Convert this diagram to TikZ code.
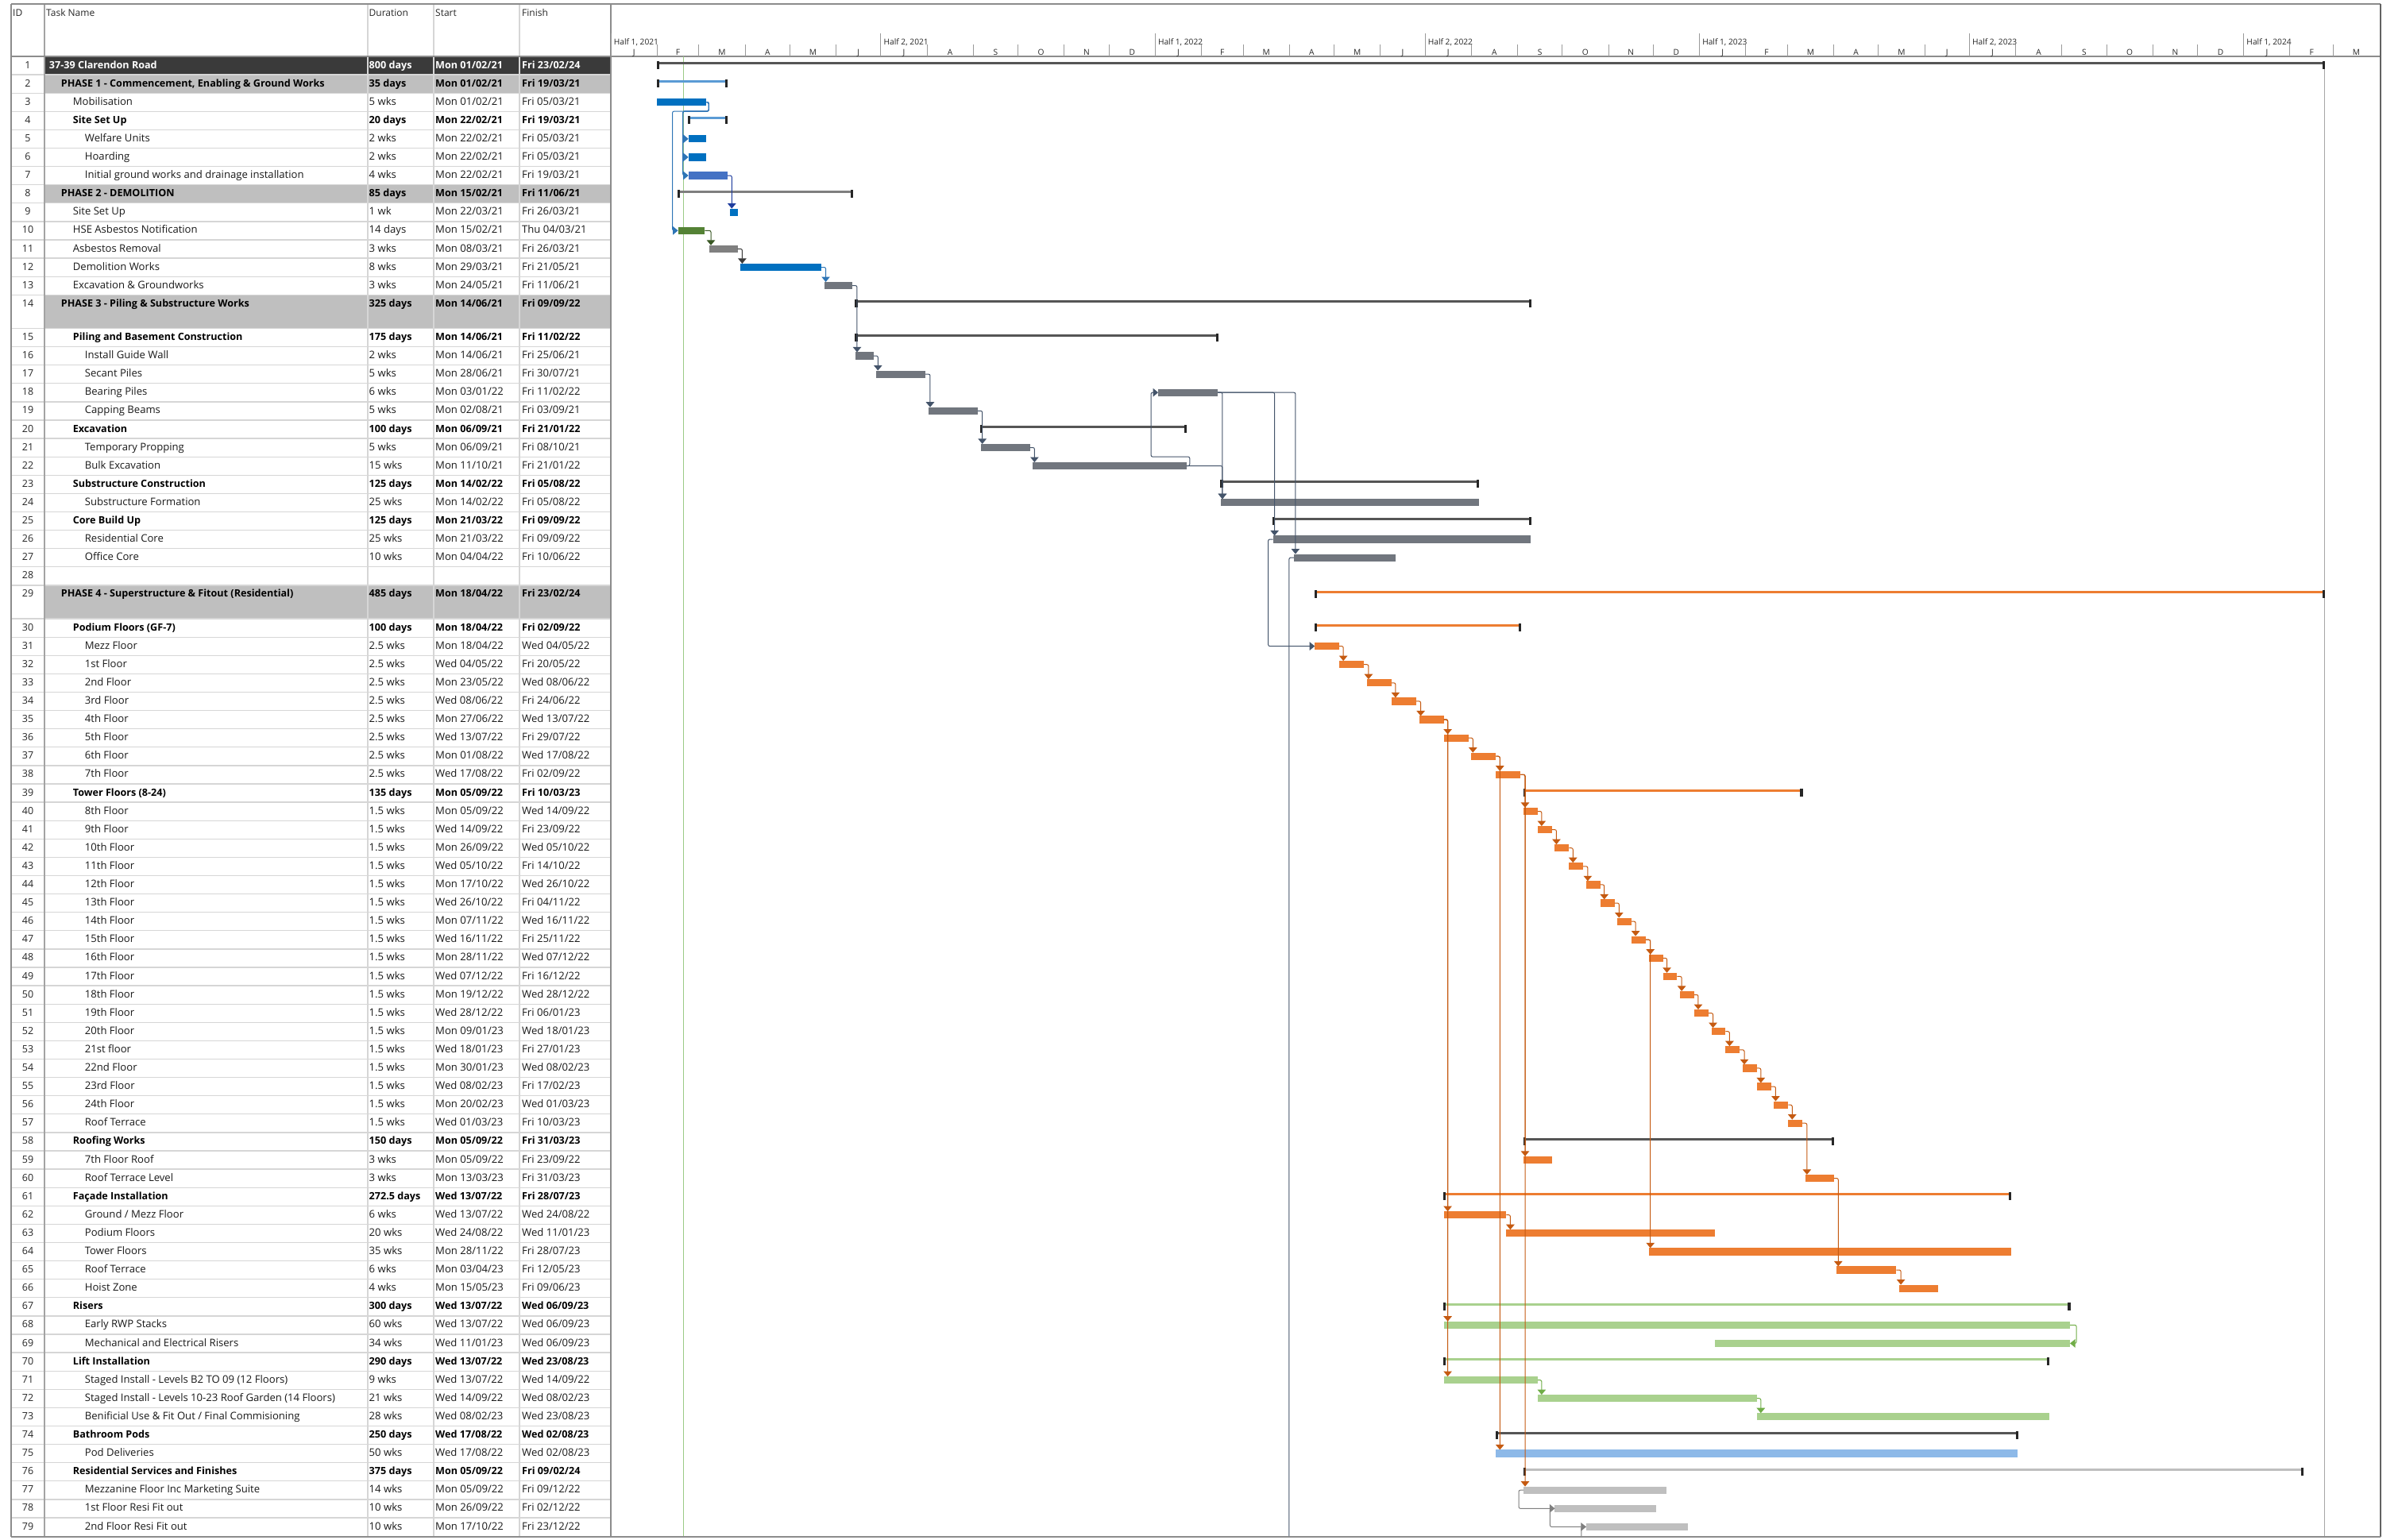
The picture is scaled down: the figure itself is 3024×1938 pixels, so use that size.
\documentclass[tikz,border=0pt]{standalone}
\usepackage{fontspec}
\setmainfont{Open Sans}
\usetikzlibrary{arrows.meta,calc}
\definecolor{cBlue}{HTML}{0070C0}
\definecolor{cBlueB}{HTML}{4472C4}
\definecolor{cLBlue}{HTML}{5B9BD5}
\definecolor{cMid}{HTML}{7F7F7F}
\definecolor{cDark}{HTML}{555555}
\definecolor{cGreenD}{HTML}{548235}
\definecolor{cGray}{HTML}{808080}
\definecolor{cSlate}{HTML}{71767E}
\definecolor{cOrange}{HTML}{ED7D31}
\definecolor{cLGreen}{HTML}{A9D18E}
\definecolor{cPod}{HTML}{8DB9E8}
\definecolor{cLGray}{HTML}{BFBFBF}
\definecolor{cTop}{HTML}{3A3A3A}
\definecolor{cPhase}{HTML}{BFBFBF}
\definecolor{cGrid}{HTML}{D6D6D6}
\definecolor{cBorder}{HTML}{8C8C8C}
\definecolor{lSlate}{HTML}{44546A}
\definecolor{lOrange}{HTML}{C55A11}
\definecolor{lGreen}{HTML}{70AD47}
\definecolor{lBlue}{HTML}{2E75B6}
\definecolor{lNavy}{HTML}{1F3D9E}
\definecolor{lDkGreen}{HTML}{385723}
\definecolor{lDark}{HTML}{3A3A3A}
\definecolor{lGray}{HTML}{7F7F7F}
\definecolor{cNow}{HTML}{9BCB86}
\definecolor{cEnd}{HTML}{A6A6A6}

\newcommand\SetT[1]{\pgfmathsetmacro\gT{71+((#1)-1)*23.1+((#1)>14)*19.1+((#1)>29)*19.1}}
\newcommand\DX[1]{\pgfmathsetmacro\gA{769.1+1.8773*(#1)}}
\newcommand\TaskBar[5]{\SetT{#2}\DX{#3}%
  \pgfmathsetmacro\gW{1.8773*((#4)-(#3))}%
  \node[taskbar, fill=#5, minimum width=\gW pt, anchor=west] (#1) at (\gA,\gT+11.4) {};}
\newcommand\SumBar[5]{\SetT{#2}%
  \pgfmathsetmacro\gA{769.1+1.8773*(#3)}%
  \pgfmathsetmacro\gB{769.1+1.8773*(#4)}%
  \pgfmathsetmacro\gW{\gB-\gA}%
  \node[sumbar, fill=#5, minimum width=\gW pt, anchor=west] (#1) at (\gA,\gT+8.5) {};
  \fill[black!85] (\gA-0.5,\gT+6) rectangle (\gA+2.6,\gT+16);
  \fill[black!85] (\gB-2.6,\gT+6) rectangle (\gB+0.5,\gT+16);}
\newcommand\TRow[7]{\SetT{#1}%
  \pgfmathsetmacro\gI{61.7+15*(#2)}%
  \node[idtxt] (id#1) at (35,\gT+15) {#1};
  \node[#7, anchor=base west] (tn#1) at (\gI,\gT+15) {#3};
  \node[#7, anchor=base west] (du#1) at (464.5,\gT+15) {#4};
  \node[#7, anchor=base west] (st#1) at (548,\gT+15) {#5};
  \node[#7, anchor=base west] (fi#1) at (657,\gT+15) {#6};}
\newcommand\FSlink[3][lSlate]{\draw[link,#1] let \p1=(#2.east), \p2=(#3.north west), \n1={max(\x1+5,\x2+2)} in (\p1) -- (\n1,\y1) -- (\n1,\y2);}
\newcommand\SSlink[3][lSlate]{\draw[link,#1] (#2.west) -- ++(-6,0) |- (#3.west);}
\newcommand\MobLink[1]{\draw[link,lBlue] let \p1=(b3.east), \p2=(#1.west) in (\p1) -- (\x1+3pt,\y1) -- (\x1+3pt,\y1-11.5pt) -- (\x2-7pt,\y1-11.5pt) -- (\x2-7pt,\y2) -- (\p2);}
\newcommand\HalfLab[3]{\DX{#1}\draw[cGray!80, line width=1pt] (\gA,42) -- (\gA,71);
  \node[tsc, anchor=base west] (#3) at (\gA+3.5,56) {#2};}

\begin{document}
\begin{tikzpicture}[x=1pt,y=-1pt,
  taskbar/.style={inner sep=0pt, outer sep=0pt, minimum height=9.2pt, draw=none},
  sumbar/.style={inner sep=0pt, outer sep=0pt, minimum height=3pt, draw=none},
  cell/.style={inner sep=0pt, font=\fontsize{13.1}{16}\selectfont, text=black!90},
  cellb/.style={inner sep=0pt, font=\fontsize{12.6}{16}\selectfont\bfseries, text=black},
  cellw/.style={inner sep=0pt, font=\fontsize{12.6}{16}\selectfont\bfseries, text=white},
  idtxt/.style={inner sep=0pt, font=\fontsize{12.5}{15}\selectfont, text=black!85, anchor=base},
  hdr/.style={inner sep=0pt, font=\fontsize{12}{14}\selectfont, anchor=base west, text=black!85},
  tsc/.style={inner sep=0pt, font=\fontsize{10.2}{12}\selectfont, text=black!85},
  grid/.style={draw=cGrid, line width=1.3pt},
  link/.style={line width=1pt, rounded corners=2pt, -{Triangle[width=10.5pt,length=6.5pt]}}]
\useasboundingbox (0,0) rectangle (3024,1938);
\fill[white] (0,0) rectangle (3024,1938);
\coordinate (chartbot) at (0,1934);

% ---------- table fills ----------
\fill[cTop] (56,71) rectangle (768,94.1);
\SetT{2}\fill[cPhase] (56,\gT) rectangle (768,\gT+23.1);
\SetT{8}\fill[cPhase] (56,\gT) rectangle (768,\gT+23.1);
\SetT{14}\fill[cPhase] (56,\gT) rectangle (768,\gT+42.2);
\SetT{29}\fill[cPhase] (56,\gT) rectangle (768,\gT+42.2);

% ---------- grid ----------
\foreach \r in {2,...,79} {\SetT{\r}\draw[grid] (14,\gT) -- (768,\gT);}
\foreach \cx in {463,546,654} {\draw[draw=cGrid, line width=1.3pt] (\cx,5) -- (\cx,1934);}
\draw[draw=cBorder!80, line width=1.3pt] (56,5) -- (56,1934);
\draw[draw=cBorder, line width=1.4pt] (14,71) -- (2997,71);
\draw[draw=cBorder, line width=2pt] (14,5) -- (2997,5);
\draw[draw=cBorder, line width=1.6pt] (14,5) -- (14,1935);
\draw[draw=cBorder, line width=1.6pt] (769,5) -- (769,1935);
\draw[draw=cBorder!70!black, line width=1.4pt] (2997,5) -- (2997,1935);
\draw[draw=cBorder, line width=1.6pt] (14,1935) -- (2997,1935);

% ---------- header ----------
\node[hdr] (hID) at (16,20.5) {ID};
\node[hdr] (hTN) at (58,20.5) {Task Name};
\node[hdr] (hDU) at (464.5,20.5) {Duration};
\node[hdr] (hST) at (548,20.5) {Start};
\node[hdr] (hFI) at (657,20.5) {Finish};

% ---------- timescale ----------
\HalfLab{0}{Half 1, 2021}{hy1}
\HalfLab{181}{Half 2, 2021}{hy2}
\HalfLab{365}{Half 1, 2022}{hy3}
\HalfLab{546}{Half 2, 2022}{hy4}
\HalfLab{730}{Half 1, 2023}{hy5}
\HalfLab{911}{Half 2, 2023}{hy6}
\HalfLab{1095}{Half 1, 2024}{hy7}
\foreach \ms in {31,59,90,120,151,212,243,273,304,334,396,424,455,485,516,577,608,638,669,699,761,789,820,850,881,942,973,1003,1034,1064,1126,1155} {\DX{\ms}\draw[cGray!80, line width=1pt] (\gA,56) -- (\gA,71);}
\foreach \ms/\mlab [count=\k] in {15.5/J,45/F,74.5/M,105/A,135.5/M,166/J,196.5/J,227.5/A,258/S,288.5/O,319/N,349.5/D,380.5/J,410/F,439.5/M,470/A,500.5/M,531/J,561.5/J,592.5/A,623/S,653.5/O,684/N,714.5/D,745.5/J,775/F,804.5/M,835/A,865.5/M,896/J,926.5/J,957.5/A,988/S,1018.5/O,1049/N,1079.5/D,1110.5/J,1140.5/F,1170.5/M} {\DX{\ms}\node[tsc, anchor=base] (mo\k) at (\gA,69) {\mlab};}

% ---------- chart vertical lines ----------
\draw[cNow, line width=1.3pt] (860.7,71) -- (860.7,1934);
\DX{1149}\draw[cEnd, line width=1pt] (\gA,80) -- (\gA,1934);

% ---------- summary bars ----------
\SumBar{s1}{1}{31}{1149}{cDark}
\SumBar{s2}{2}{31}{78}{cLBlue}
\SumBar{s4}{4}{52}{78}{cLBlue}
\SumBar{s8}{8}{45}{162}{cMid}
\SumBar{s14}{14}{164}{617}{cDark}
\SumBar{s15}{15}{164}{407}{cDark}
\SumBar{s20}{20}{248}{386}{cDark}
\SumBar{s23}{23}{409}{582}{cDark}
\SumBar{s25}{25}{444}{617}{cDark}
\SumBar{s29}{29}{472}{1149}{cOrange}
\SumBar{s30}{30}{472}{610}{cOrange}
\SumBar{s39}{39}{612}{799}{cOrange}
\SumBar{s58}{58}{612}{820}{cDark}
\SumBar{s61}{61}{558.5}{939}{cOrange}
\SumBar{s67}{67}{558.5}{978.5}{cLGreen}
\SumBar{s70}{70}{558.5}{964.5}{cLGreen}
\SumBar{s74}{74}{593.5}{943.5}{cDark}
\SumBar{s76}{76}{612}{1135}{cLGray}

% ---------- task bars ----------
\TaskBar{b3}{3}{31}{64}{cBlue}
\TaskBar{b5}{5}{52}{64}{cBlue}
\TaskBar{b6}{6}{52}{64}{cBlue}
\TaskBar{b7}{7}{52}{78}{cBlueB}
\TaskBar{b9}{9}{80}{85}{cBlue}
\TaskBar{b10}{10}{45}{63}{cGreenD}
\TaskBar{b11}{11}{66}{85}{cGray}
\TaskBar{b12}{12}{87}{141}{cBlue}
\TaskBar{b13}{13}{143}{162}{cSlate}
\TaskBar{b16}{16}{164}{176}{cSlate}
\TaskBar{b17}{17}{178}{211}{cSlate}
\TaskBar{b18}{18}{367}{407}{cSlate}
\TaskBar{b19}{19}{213}{246}{cSlate}
\TaskBar{b21}{21}{248}{281}{cSlate}
\TaskBar{b22}{22}{283}{386}{cSlate}
\TaskBar{b24}{24}{409}{582}{cSlate}
\TaskBar{b26}{26}{444}{617}{cSlate}
\TaskBar{b27}{27}{458}{526}{cSlate}
\TaskBar{b31}{31}{472}{488.5}{cOrange}
\TaskBar{b32}{32}{488.5}{505}{cOrange}
\TaskBar{b33}{33}{507}{523.5}{cOrange}
\TaskBar{b34}{34}{523.5}{540}{cOrange}
\TaskBar{b35}{35}{542}{558.5}{cOrange}
\TaskBar{b36}{36}{558.5}{575}{cOrange}
\TaskBar{b37}{37}{577}{593.5}{cOrange}
\TaskBar{b38}{38}{593.5}{610}{cOrange}
\TaskBar{b40}{40}{612}{621.5}{cOrange}
\TaskBar{b41}{41}{621.5}{631}{cOrange}
\TaskBar{b42}{42}{633}{642.5}{cOrange}
\TaskBar{b43}{43}{642.5}{652}{cOrange}
\TaskBar{b44}{44}{654}{663.5}{cOrange}
\TaskBar{b45}{45}{663.5}{673}{cOrange}
\TaskBar{b46}{46}{675}{684.5}{cOrange}
\TaskBar{b47}{47}{684.5}{694}{cOrange}
\TaskBar{b48}{48}{696}{705.5}{cOrange}
\TaskBar{b49}{49}{705.5}{715}{cOrange}
\TaskBar{b50}{50}{717}{726.5}{cOrange}
\TaskBar{b51}{51}{726.5}{736}{cOrange}
\TaskBar{b52}{52}{738}{747.5}{cOrange}
\TaskBar{b53}{53}{747.5}{757}{cOrange}
\TaskBar{b54}{54}{759}{768.5}{cOrange}
\TaskBar{b55}{55}{768.5}{778}{cOrange}
\TaskBar{b56}{56}{780}{789.5}{cOrange}
\TaskBar{b57}{57}{789.5}{799}{cOrange}
\TaskBar{b59}{59}{612}{631}{cOrange}
\TaskBar{b60}{60}{801}{820}{cOrange}
\TaskBar{b62}{62}{558.5}{600.5}{cOrange}
\TaskBar{b63}{63}{600.5}{740.5}{cOrange}
\TaskBar{b64}{64}{696}{939}{cOrange}
\TaskBar{b65}{65}{822}{862}{cOrange}
\TaskBar{b66}{66}{864}{890}{cOrange}
\TaskBar{b68}{68}{558.5}{978.5}{cLGreen}
\TaskBar{b69}{69}{740.5}{978.5}{cLGreen}
\TaskBar{b71}{71}{558.5}{621.5}{cLGreen}
\TaskBar{b72}{72}{621.5}{768.5}{cLGreen}
\TaskBar{b73}{73}{768.5}{964.5}{cLGreen}
\TaskBar{b75}{75}{593.5}{943.5}{cPod}
\TaskBar{b77}{77}{612}{708}{cLGray}
\TaskBar{b78}{78}{633}{701}{cLGray}
\TaskBar{b79}{79}{654}{722}{cLGray}

% ---------- links ----------
\MobLink{b5}\MobLink{b6}\MobLink{b7}\MobLink{b10}
\FSlink[lNavy]{b7}{b9}
\FSlink[lDkGreen]{b10}{b11}
\FSlink[lDark]{b11}{b12}
\FSlink[lBlue]{b12}{b13}
\FSlink{b13}{b16}
\FSlink{b16}{b17}
\FSlink{b17}{b19}
\FSlink{b19}{b21}
\FSlink{b21}{b22}
\FSlink{b22}{b24}
\FSlink{b18}{b24}
\FSlink{b18}{b26}
\FSlink{b18}{b27}
\draw[link,lSlate] let \p1=(b22.east), \p2=(b18.west) in (\p1) -- (\x1+4pt,\y1) -- (\x1+4pt,\y1+11.5pt) -- (\x2-9pt,\y1+11.5pt) -- (\x2-9pt,\y2) -- (\p2);
\SSlink{b26}{b31}
\draw[link,lSlate,-] (b27.west) -- ++(-6,0) coordinate (c27) -- (c27 |- chartbot);
\FSlink[lOrange]{b31}{b32}
\FSlink[lOrange]{b32}{b33}
\FSlink[lOrange]{b33}{b34}
\FSlink[lOrange]{b34}{b35}
\FSlink[lOrange]{b35}{b36}
\FSlink[lOrange]{b36}{b37}
\FSlink[lOrange]{b37}{b38}
\FSlink[lOrange]{b38}{b40}
\foreach \i [evaluate=\i as \j using int(\i+1)] in {40,...,56} {\FSlink[lOrange]{b\i}{b\j}}
\FSlink[lOrange]{b57}{b60}
\FSlink[lOrange]{b60}{b65}
\FSlink[lOrange]{b65}{b66}
\FSlink[lOrange]{b62}{b63}
\FSlink[lOrange]{b35}{b62}
\FSlink[lOrange]{b35}{b68}
\FSlink[lOrange]{b35}{b71}
\FSlink[lOrange]{b37}{b75}
\FSlink[lOrange]{b38}{b59}
\FSlink[lOrange]{b38}{b77}
\FSlink[lOrange]{b47}{b64}
\draw[link,lGreen] (b68.east) -- ++(8,0) |- (b69.east);
\FSlink[lGreen]{b71}{b72}
\FSlink[lGreen]{b72}{b73}
\SSlink[lGray]{b77}{b78}
\SSlink[lGray]{b78}{b79}
\draw[link,lGray,-] (b79.west) -- ++(-6,0) coordinate (c79) -- (c79 |- chartbot);

% ---------- table text ----------
\TRow{1}{0}{37-39 Clarendon Road}{800 days}{Mon 01/02/21}{Fri 23/02/24}{cellw}
\TRow{2}{1}{PHASE 1 - Commencement, Enabling \& Ground Works}{35 days}{Mon 01/02/21}{Fri 19/03/21}{cellb}
\TRow{3}{2}{Mobilisation}{5 wks}{Mon 01/02/21}{Fri 05/03/21}{cell}
\TRow{4}{2}{Site Set Up}{20 days}{Mon 22/02/21}{Fri 19/03/21}{cellb}
\TRow{5}{3}{Welfare Units}{2 wks}{Mon 22/02/21}{Fri 05/03/21}{cell}
\TRow{6}{3}{Hoarding}{2 wks}{Mon 22/02/21}{Fri 05/03/21}{cell}
\TRow{7}{3}{Initial ground works and drainage installation}{4 wks}{Mon 22/02/21}{Fri 19/03/21}{cell}
\TRow{8}{1}{PHASE 2 - DEMOLITION}{85 days}{Mon 15/02/21}{Fri 11/06/21}{cellb}
\TRow{9}{2}{Site Set Up}{1 wk}{Mon 22/03/21}{Fri 26/03/21}{cell}
\TRow{10}{2}{HSE Asbestos Notification}{14 days}{Mon 15/02/21}{Thu 04/03/21}{cell}
\TRow{11}{2}{Asbestos Removal}{3 wks}{Mon 08/03/21}{Fri 26/03/21}{cell}
\TRow{12}{2}{Demolition Works}{8 wks}{Mon 29/03/21}{Fri 21/05/21}{cell}
\TRow{13}{2}{Excavation \& Groundworks}{3 wks}{Mon 24/05/21}{Fri 11/06/21}{cell}
\TRow{14}{1}{PHASE 3 - Piling \& Substructure Works}{325 days}{Mon 14/06/21}{Fri 09/09/22}{cellb}
\TRow{15}{2}{Piling and Basement Construction}{175 days}{Mon 14/06/21}{Fri 11/02/22}{cellb}
\TRow{16}{3}{Install Guide Wall}{2 wks}{Mon 14/06/21}{Fri 25/06/21}{cell}
\TRow{17}{3}{Secant Piles}{5 wks}{Mon 28/06/21}{Fri 30/07/21}{cell}
\TRow{18}{3}{Bearing Piles}{6 wks}{Mon 03/01/22}{Fri 11/02/22}{cell}
\TRow{19}{3}{Capping Beams}{5 wks}{Mon 02/08/21}{Fri 03/09/21}{cell}
\TRow{20}{2}{Excavation}{100 days}{Mon 06/09/21}{Fri 21/01/22}{cellb}
\TRow{21}{3}{Temporary Propping}{5 wks}{Mon 06/09/21}{Fri 08/10/21}{cell}
\TRow{22}{3}{Bulk Excavation}{15 wks}{Mon 11/10/21}{Fri 21/01/22}{cell}
\TRow{23}{2}{Substructure Construction}{125 days}{Mon 14/02/22}{Fri 05/08/22}{cellb}
\TRow{24}{3}{Substructure Formation}{25 wks}{Mon 14/02/22}{Fri 05/08/22}{cell}
\TRow{25}{2}{Core Build Up}{125 days}{Mon 21/03/22}{Fri 09/09/22}{cellb}
\TRow{26}{3}{Residential Core}{25 wks}{Mon 21/03/22}{Fri 09/09/22}{cell}
\TRow{27}{3}{Office Core}{10 wks}{Mon 04/04/22}{Fri 10/06/22}{cell}
\SetT{28}\node[idtxt] (id28) at (35,\gT+15) {28};
\TRow{29}{1}{PHASE 4 - Superstructure \& Fitout (Residential)}{485 days}{Mon 18/04/22}{Fri 23/02/24}{cellb}
\TRow{30}{2}{Podium Floors (GF-7)}{100 days}{Mon 18/04/22}{Fri 02/09/22}{cellb}
\TRow{31}{3}{Mezz Floor}{2.5 wks}{Mon 18/04/22}{Wed 04/05/22}{cell}
\TRow{32}{3}{1st Floor}{2.5 wks}{Wed 04/05/22}{Fri 20/05/22}{cell}
\TRow{33}{3}{2nd Floor}{2.5 wks}{Mon 23/05/22}{Wed 08/06/22}{cell}
\TRow{34}{3}{3rd Floor}{2.5 wks}{Wed 08/06/22}{Fri 24/06/22}{cell}
\TRow{35}{3}{4th Floor}{2.5 wks}{Mon 27/06/22}{Wed 13/07/22}{cell}
\TRow{36}{3}{5th Floor}{2.5 wks}{Wed 13/07/22}{Fri 29/07/22}{cell}
\TRow{37}{3}{6th Floor}{2.5 wks}{Mon 01/08/22}{Wed 17/08/22}{cell}
\TRow{38}{3}{7th Floor}{2.5 wks}{Wed 17/08/22}{Fri 02/09/22}{cell}
\TRow{39}{2}{Tower Floors (8-24)}{135 days}{Mon 05/09/22}{Fri 10/03/23}{cellb}
\TRow{40}{3}{8th Floor}{1.5 wks}{Mon 05/09/22}{Wed 14/09/22}{cell}
\TRow{41}{3}{9th Floor}{1.5 wks}{Wed 14/09/22}{Fri 23/09/22}{cell}
\TRow{42}{3}{10th Floor}{1.5 wks}{Mon 26/09/22}{Wed 05/10/22}{cell}
\TRow{43}{3}{11th Floor}{1.5 wks}{Wed 05/10/22}{Fri 14/10/22}{cell}
\TRow{44}{3}{12th Floor}{1.5 wks}{Mon 17/10/22}{Wed 26/10/22}{cell}
\TRow{45}{3}{13th Floor}{1.5 wks}{Wed 26/10/22}{Fri 04/11/22}{cell}
\TRow{46}{3}{14th Floor}{1.5 wks}{Mon 07/11/22}{Wed 16/11/22}{cell}
\TRow{47}{3}{15th Floor}{1.5 wks}{Wed 16/11/22}{Fri 25/11/22}{cell}
\TRow{48}{3}{16th Floor}{1.5 wks}{Mon 28/11/22}{Wed 07/12/22}{cell}
\TRow{49}{3}{17th Floor}{1.5 wks}{Wed 07/12/22}{Fri 16/12/22}{cell}
\TRow{50}{3}{18th Floor}{1.5 wks}{Mon 19/12/22}{Wed 28/12/22}{cell}
\TRow{51}{3}{19th Floor}{1.5 wks}{Wed 28/12/22}{Fri 06/01/23}{cell}
\TRow{52}{3}{20th Floor}{1.5 wks}{Mon 09/01/23}{Wed 18/01/23}{cell}
\TRow{53}{3}{21st floor}{1.5 wks}{Wed 18/01/23}{Fri 27/01/23}{cell}
\TRow{54}{3}{22nd Floor}{1.5 wks}{Mon 30/01/23}{Wed 08/02/23}{cell}
\TRow{55}{3}{23rd Floor}{1.5 wks}{Wed 08/02/23}{Fri 17/02/23}{cell}
\TRow{56}{3}{24th Floor}{1.5 wks}{Mon 20/02/23}{Wed 01/03/23}{cell}
\TRow{57}{3}{Roof Terrace}{1.5 wks}{Wed 01/03/23}{Fri 10/03/23}{cell}
\TRow{58}{2}{Roofing Works}{150 days}{Mon 05/09/22}{Fri 31/03/23}{cellb}
\TRow{59}{3}{7th Floor Roof}{3 wks}{Mon 05/09/22}{Fri 23/09/22}{cell}
\TRow{60}{3}{Roof Terrace Level}{3 wks}{Mon 13/03/23}{Fri 31/03/23}{cell}
\TRow{61}{2}{Façade Installation}{272.5 days}{Wed 13/07/22}{Fri 28/07/23}{cellb}
\TRow{62}{3}{Ground / Mezz Floor}{6 wks}{Wed 13/07/22}{Wed 24/08/22}{cell}
\TRow{63}{3}{Podium Floors}{20 wks}{Wed 24/08/22}{Wed 11/01/23}{cell}
\TRow{64}{3}{Tower Floors}{35 wks}{Mon 28/11/22}{Fri 28/07/23}{cell}
\TRow{65}{3}{Roof Terrace}{6 wks}{Mon 03/04/23}{Fri 12/05/23}{cell}
\TRow{66}{3}{Hoist Zone}{4 wks}{Mon 15/05/23}{Fri 09/06/23}{cell}
\TRow{67}{2}{Risers}{300 days}{Wed 13/07/22}{Wed 06/09/23}{cellb}
\TRow{68}{3}{Early RWP Stacks}{60 wks}{Wed 13/07/22}{Wed 06/09/23}{cell}
\TRow{69}{3}{Mechanical and Electrical Risers}{34 wks}{Wed 11/01/23}{Wed 06/09/23}{cell}
\TRow{70}{2}{Lift Installation}{290 days}{Wed 13/07/22}{Wed 23/08/23}{cellb}
\TRow{71}{3}{Staged Install - Levels B2 TO 09 (12 Floors)}{9 wks}{Wed 13/07/22}{Wed 14/09/22}{cell}
\TRow{72}{3}{Staged Install - Levels 10-23 Roof Garden (14 Floors)}{21 wks}{Wed 14/09/22}{Wed 08/02/23}{cell}
\TRow{73}{3}{Benificial Use \& Fit Out / Final Commisioning}{28 wks}{Wed 08/02/23}{Wed 23/08/23}{cell}
\TRow{74}{2}{Bathroom Pods}{250 days}{Wed 17/08/22}{Wed 02/08/23}{cellb}
\TRow{75}{3}{Pod Deliveries}{50 wks}{Wed 17/08/22}{Wed 02/08/23}{cell}
\TRow{76}{2}{Residential Services and Finishes}{375 days}{Mon 05/09/22}{Fri 09/02/24}{cellb}
\TRow{77}{3}{Mezzanine Floor Inc Marketing Suite}{14 wks}{Mon 05/09/22}{Fri 09/12/22}{cell}
\TRow{78}{3}{1st Floor Resi Fit out}{10 wks}{Mon 26/09/22}{Fri 02/12/22}{cell}
\TRow{79}{3}{2nd Floor Resi Fit out}{10 wks}{Mon 17/10/22}{Fri 23/12/22}{cell}
\end{tikzpicture}
\end{document}
